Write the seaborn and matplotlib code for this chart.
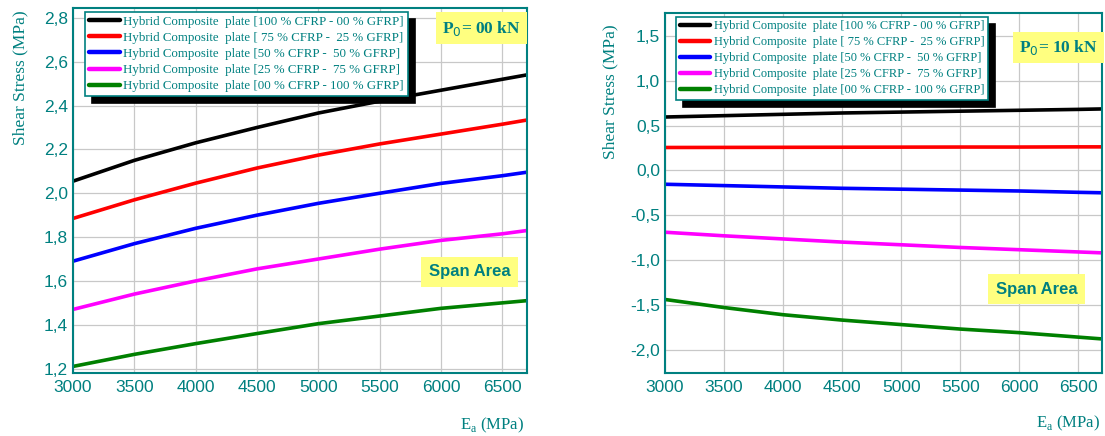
import numpy as np
import pandas as pd
import matplotlib
matplotlib.use("Agg")
import matplotlib.pyplot as plt
import seaborn as sns
from matplotlib.ticker import MultipleLocator, FuncFormatter

ea = [3000, 3500, 4000, 4500, 5000, 5500, 6000, 6500, 6700]
series_names = [
    "Hybrid Composite  plate [100 % CFRP - 00 % GFRP]",
    "Hybrid Composite  plate [ 75 % CFRP -  25 % GFRP]",
    "Hybrid Composite  plate [50 % CFRP -  50 % GFRP]",
    "Hybrid Composite  plate [25 % CFRP -  75 % GFRP]",
    "Hybrid Composite  plate [00 % CFRP - 100 % GFRP]",
]
# P0 = 00 kN
p0_100 = [2.055, 2.15, 2.23, 2.30, 2.366, 2.42, 2.47, 2.52, 2.54]
p0_75 = [1.885, 1.97, 2.046, 2.115, 2.174, 2.225, 2.27, 2.315, 2.334]
p0_50 = [1.69, 1.77, 1.84, 1.90, 1.954, 2.00, 2.045, 2.08, 2.096]
p0_25 = [1.47, 1.54, 1.60, 1.655, 1.70, 1.745, 1.785, 1.815, 1.83]
p0_00 = [1.21, 1.265, 1.314, 1.36, 1.405, 1.44, 1.475, 1.50, 1.51]
# P0 = 10 kN
p10_100 = [0.595, 0.61, 0.625, 0.64, 0.65, 0.66, 0.67, 0.68, 0.685]
p10_75 = [0.255, 0.256, 0.257, 0.258, 0.259, 0.26, 0.26, 0.262, 0.262]
p10_50 = [-0.155, -0.17, -0.185, -0.20, -0.21, -0.22, -0.23, -0.245, -0.25]
p10_25 = [-0.69, -0.73, -0.765, -0.80, -0.83, -0.86, -0.885, -0.91, -0.92]
p10_00 = [-1.44, -1.53, -1.61, -1.67, -1.72, -1.77, -1.81, -1.86, -1.88]

colors = ["#000000", "#ff0000", "#0000ff", "#ff00ff", "#008000"]
teal = "#008080"

def make_df(vals):
    rows = []
    for name, v in zip(series_names, vals):
        for x, y in zip(ea, v):
            rows.append({"Ea": x, "stress": y, "series": name})
    return pd.DataFrame(rows)

df0 = make_df([p0_100, p0_75, p0_50, p0_25, p0_00])
df10 = make_df([p10_100, p10_75, p10_50, p10_25, p10_00])

sns.set_style("white")
plt.rcParams["font.family"] = ["Liberation Sans", "DejaVu Sans"]

fig = plt.figure(figsize=(11.05, 4.36), dpi=100)
ax1 = fig.add_axes([73/1105, 63/436, (527-73)/1105, (373-8)/436])
ax2 = fig.add_axes([665/1105, 63/436, (1102-665)/1105, (373-13)/436])

comma = FuncFormatter(lambda v, p: f"{v:.1f}".replace(".", ","))

def style(ax, df, ylim, ymaj, ymin, ptxt, pbox, spanxy, legsize):
    sns.lineplot(data=df, x="Ea", y="stress", hue="series", palette=colors,
                 linewidth=2.6, ax=ax, legend=True)
    ax.set_xlim(3000, 6700)
    ax.set_ylim(*ylim)
    ax.xaxis.set_major_locator(MultipleLocator(500))
    ax.xaxis.set_minor_locator(MultipleLocator(250))
    ax.yaxis.set_major_locator(MultipleLocator(ymaj))
    ax.yaxis.set_minor_locator(MultipleLocator(ymin))
    ax.yaxis.set_major_formatter(comma)
    ax.grid(True, which="major", color="#c8c8c8", linewidth=0.9)
    ax.set_axisbelow(True)
    for s in ax.spines.values():
        s.set_color(teal)
        s.set_linewidth(1.5)
        s.set_visible(True)
    ax.tick_params(which="both", direction="in", colors=teal, labelsize=12.5,
                   labelcolor=teal)
    ax.tick_params(which="major", length=6, width=1.2)
    ax.tick_params(which="minor", length=3, width=1.0)
    ax.tick_params(axis="x", pad=5)
    ax.set_xlabel("")
    ax.set_ylabel("")
    handles, labels = ax.get_legend_handles_labels()
    leg = ax.legend(handles, labels, loc="upper left", bbox_to_anchor=(0.02, 0.997),
                    prop={"family": "Liberation Serif", "size": legsize},
                    labelcolor=teal, frameon=True, fancybox=False,
                    shadow={"color": "black", "alpha": 1, "ox": 5, "oy": -5},
                    handlelength=2.4, handletextpad=0.3, borderpad=0.3,
                    labelspacing=0.32, borderaxespad=0.2)
    leg.get_frame().set_edgecolor(teal)
    leg.get_frame().set_linewidth(1.2)
    for line in leg.get_lines():
        line.set_linewidth(3.2)
    ax.text(pbox[0], pbox[1], ptxt, transform=ax.transAxes, ha="center", va="center",
            fontsize=12.5, fontweight="bold", color=teal, family="Liberation Serif",
            bbox=dict(boxstyle="square,pad=0.35", fc="#ffff80", ec="none"))
    ax.text(spanxy[0], spanxy[1], "Span Area", transform=ax.transAxes, ha="center",
            va="center", fontsize=12, fontweight="bold", color=teal,
            family="Liberation Sans",
            bbox=dict(boxstyle="square,pad=0.45", fc="#ffff80", ec="none"))

style(ax1, df0, (1.18, 2.845), 0.2, 0.1, r"P$_0$= 00 kN", (0.9, 0.945), (0.874, 0.277), 9.3)
style(ax2, df10, (-2.26, 1.755), 0.5, 0.25, r"P$_0$= 10 kN", (0.9, 0.905), (0.85, 0.233), 9.0)

fig.text(20/1105, 1 - 78/436, "Shear Stress (MPa)", rotation=90, ha="center", va="center",
         fontsize=12.5, color=teal, family="Liberation Serif")
fig.text(610/1105, 1 - 92/436, "Shear Stress (MPa)", rotation=90, ha="center", va="center",
         fontsize=12.5, color=teal, family="Liberation Serif")
fig.text(492/1105, 1 - 425/436, r"E$_\mathregular{a}$ (MPa)", ha="center", va="center",
         fontsize=12, color=teal, family="Liberation Serif")
fig.text(1068/1105, 1 - 423/436, r"E$_\mathregular{a}$ (MPa)", ha="center", va="center",
         fontsize=12, color=teal, family="Liberation Serif")

fig.savefig("out.png", dpi=100)
